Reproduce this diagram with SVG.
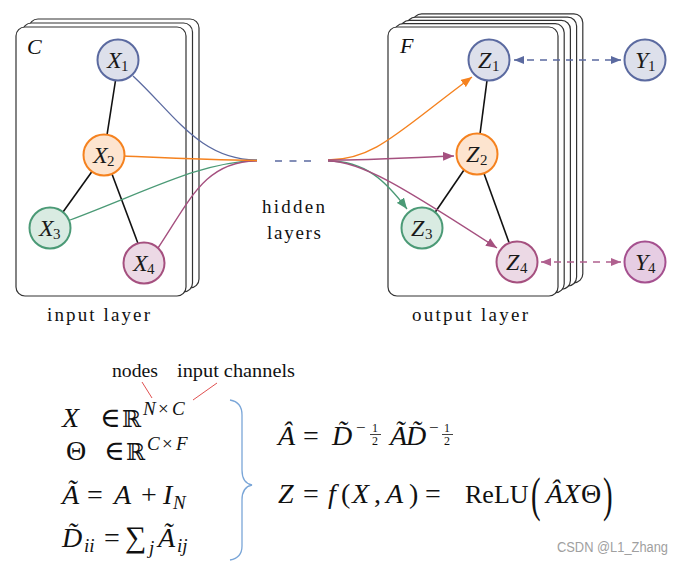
<svg xmlns="http://www.w3.org/2000/svg" width="684" height="564" viewBox="0 0 684 564">
<style>
.card{fill:#fff;stroke:#333;stroke-width:1.2}
.serif{font-family:"Liberation Serif","DejaVu Serif",serif;fill:#111}
.lbl{font-family:"Liberation Serif","DejaVu Serif",serif;font-style:italic;font-size:24px;fill:#1a1a1a}
.sub{font-style:normal;font-size:15px}
.m{font-family:"Liberation Serif","DejaVu Serif",serif;font-size:28px;fill:#111}
.i{font-style:italic}
.sup{font-size:19px}
.frac{font-size:12px}
.rr{font-size:23px}
.edge{stroke:#111;stroke-width:1.6;fill:none}
.cb{stroke:#5b6aa0;fill:none;stroke-width:1.3}
.co{stroke:#f5821f;fill:none;stroke-width:1.4}
.cg{stroke:#4b9a76;fill:none;stroke-width:1.3}
.cm{stroke:#a5507f;fill:none;stroke-width:1.4}
.nb{fill:#dde0eb;stroke:#5b6aa0;stroke-width:2}
.no{fill:#fde4cf;stroke:#f5821f;stroke-width:2}
.ng{fill:#d9ebe2;stroke:#4b9a76;stroke-width:2}
.nm{fill:#ecd9e5;stroke:#a5507f;stroke-width:2}
.ny{fill:#e6cde3;stroke:#a5508f;stroke-width:2}
.cap{font-family:"Liberation Serif","DejaVu Serif",serif;font-size:19px;fill:#111}
</style>
<defs>
<marker id="ao" markerUnits="userSpaceOnUse" markerWidth="11" markerHeight="9" refX="11" refY="4.5" orient="auto-start-reverse"><path d="M0,0 L11,4.5 L0,9 Z" fill="#f5821f"/></marker>
<marker id="am" markerUnits="userSpaceOnUse" markerWidth="11" markerHeight="9" refX="11" refY="4.5" orient="auto-start-reverse"><path d="M0,0 L11,4.5 L0,9 Z" fill="#a5507f"/></marker>
<marker id="ag" markerUnits="userSpaceOnUse" markerWidth="11" markerHeight="9" refX="11" refY="4.5" orient="auto-start-reverse"><path d="M0,0 L11,4.5 L0,9 Z" fill="#4b9a76"/></marker>
<marker id="ab" markerUnits="userSpaceOnUse" markerWidth="10" markerHeight="8" refX="10" refY="4" orient="auto-start-reverse"><path d="M0,0 L10,4 L0,8 Z" fill="#5b6aa0"/></marker>
<marker id="ap" markerUnits="userSpaceOnUse" markerWidth="10" markerHeight="8" refX="10" refY="4" orient="auto-start-reverse"><path d="M0,0 L10,4 L0,8 Z" fill="#b0608f"/></marker>
</defs>
<rect width="684" height="564" fill="#fff"/>

<g id="input-stack">
<rect class="card" x="29" y="19" width="170" height="269" rx="9"/>
<rect class="card" x="22.5" y="23" width="170" height="269" rx="9"/>
<rect class="card" x="16" y="27" width="170" height="269" rx="9"/>
<text class="serif" x="27" y="54" font-size="22" font-style="italic">C</text>
</g>
<g id="output-stack">
<rect class="card" x="412.8" y="13.8" width="170" height="269" rx="9"/>
<rect class="card" x="406.6" y="17.1" width="170" height="269" rx="9"/>
<rect class="card" x="400.4" y="20.4" width="170" height="269" rx="9"/>
<rect class="card" x="394.2" y="23.7" width="170" height="269" rx="9"/>
<rect class="card" x="388" y="27" width="170" height="269" rx="9"/>
<text class="serif" x="400" y="53" font-size="22" font-style="italic">F</text>
</g>

<g id="connectors">
<line class="edge" x1="115.5" y1="80.5" x2="107" y2="135"/>
<line class="edge" x1="92" y1="171.5" x2="63" y2="212"/>
<line class="edge" x1="112" y1="174" x2="138" y2="243.5"/>
<line class="edge" x1="487" y1="80.5" x2="480" y2="134"/>
<line class="edge" x1="464" y1="170" x2="435" y2="212.5"/>
<line class="edge" x1="484" y1="173.5" x2="509" y2="242.5"/>
<path class="cb" d="M133,76 C175,115 200,160 257,160"/>
<path class="cg" d="M70,220 C150,190 200,162 257,160.5"/>
<path class="cm" d="M158,248 C190,200 205,161 257,161"/>
<path class="co" d="M124,156 C170,158 210,160 257,160.5"/>
<line x1="275" y1="161" x2="312" y2="161" stroke="#5b6aa0" stroke-width="1.6" stroke-dasharray="7,7.5"/>
<path class="co" d="M328,160 C375,160 400,130 472,77" marker-end="url(#ao)"/>
<path class="cg" d="M328,161 C365,161 385,180 407,209" marker-end="url(#ag)"/>
<path class="cm" d="M328,161 C360,161 400,185 497,248" marker-end="url(#am)"/>
<path class="cm" d="M328,160 C380,160 420,157 454,156" marker-end="url(#am)"/>
<line x1="514" y1="60" x2="621" y2="60" stroke="#5b6aa0" stroke-width="1.4" stroke-dasharray="7,6" marker-start="url(#ab)" marker-end="url(#ab)"/>
<line x1="541" y1="262" x2="621" y2="262" stroke="#b0608f" stroke-width="1.4" stroke-dasharray="7,6" marker-start="url(#ap)" marker-end="url(#ap)"/>
</g>

<g id="X1"><circle class="nb" cx="118" cy="60" r="20.5"/><text class="lbl" x="107" y="68">X<tspan class="sub" x="121" dy="3">1</tspan></text></g>
<g id="X2"><circle class="no" cx="104" cy="155" r="20.5"/><text class="lbl" x="93" y="163">X<tspan class="sub" x="107" dy="3">2</tspan></text></g>
<g id="X3"><circle class="ng" cx="50" cy="228" r="20.5"/><text class="lbl" x="39" y="236">X<tspan class="sub" x="53" dy="3">3</tspan></text></g>
<g id="X4"><circle class="nm" cx="144" cy="263" r="20.5"/><text class="lbl" x="133" y="271">X<tspan class="sub" x="147" dy="3">4</tspan></text></g>
<g id="Z1"><circle class="nb" cx="489" cy="60" r="20.5"/><text class="lbl" x="478" y="68">Z<tspan class="sub" x="492" dy="3">1</tspan></text></g>
<g id="Z2"><circle class="no" cx="477" cy="154" r="20.5"/><text class="lbl" x="466" y="162">Z<tspan class="sub" x="480" dy="3">2</tspan></text></g>
<g id="Z3"><circle class="ng" cx="422" cy="228" r="20.5"/><text class="lbl" x="411" y="236">Z<tspan class="sub" x="425" dy="3">3</tspan></text></g>
<g id="Z4"><circle class="nm" cx="517" cy="262" r="20.5"/><text class="lbl" x="506" y="270">Z<tspan class="sub" x="520" dy="3">4</tspan></text></g>
<g id="Y1"><circle class="nb" cx="645" cy="60" r="20.5"/><text class="lbl" x="635" y="68">Y<tspan class="sub" x="648" dy="3">1</tspan></text></g>
<g id="Y4"><circle class="ny" cx="645" cy="262" r="20.5"/><text class="lbl" x="635" y="270">Y<tspan class="sub" x="648" dy="3">4</tspan></text></g>

<g id="labels">
<text class="cap" x="47" y="321" textLength="103" lengthAdjust="spacing">input layer</text>
<text class="cap" x="412" y="321" textLength="116" lengthAdjust="spacing">output layer</text>
<text class="cap" x="262" y="213" textLength="63" lengthAdjust="spacing">hidden</text>
<text class="cap" x="267" y="239" textLength="54" lengthAdjust="spacing">layers</text>
</g>

<g id="formulas-left">
<text class="serif" x="112" y="377" font-size="18" textLength="46" lengthAdjust="spacingAndGlyphs">nodes</text>
<text class="serif" x="177" y="377" font-size="18" textLength="118" lengthAdjust="spacingAndGlyphs">input channels</text>
<line x1="142" y1="382" x2="152" y2="398" stroke="#e05050" stroke-width="1"/>
<line x1="217" y1="383" x2="193" y2="400" stroke="#e05050" stroke-width="1"/>
<text class="m" y="427"><tspan class="i" x="62">X</tspan><tspan x="100">∈</tspan><tspan class="rr" x="122">ℝ</tspan></text>
<text class="m sup" y="415"><tspan class="i" x="143">N</tspan><tspan x="158">×</tspan><tspan class="i" x="172">C</tspan></text>
<text class="m" y="460"><tspan x="66">Θ</tspan><tspan x="104">∈</tspan><tspan class="rr" x="126">ℝ</tspan></text>
<text class="m sup" y="450"><tspan class="i" x="147">C</tspan><tspan x="162">×</tspan><tspan class="i" x="176">F</tspan></text>
<text class="m" y="504"><tspan class="i" x="62">Ã</tspan><tspan x="87">=</tspan><tspan class="i" x="114">A</tspan><tspan x="141">+</tspan><tspan class="i" x="163">I</tspan><tspan class="i sup" x="173" dy="5">N</tspan></text>
<text class="m" y="547"><tspan class="i" x="62">D̃</tspan><tspan class="i sup" x="84" dy="5">ii</tspan><tspan x="104" dy="-5">=</tspan><tspan x="125" style="font-size:30px">∑</tspan><tspan class="i sup" x="149" dy="7">j</tspan><tspan class="i" x="158" dy="-7">Ã</tspan><tspan class="i sup" x="177" dy="5">ij</tspan></text>
<path d="M230,400 Q242,402 242,415 L242,470 Q242,483 252,485 Q242,487 242,500 L242,546 Q242,558 230,560" fill="none" stroke="#7aa6d8" stroke-width="1.3"/>
</g>

<g id="formulas-right">
<text class="m" y="445"><tspan class="i" x="278">Â</tspan><tspan x="303">=</tspan><tspan class="i" x="332">D̃</tspan><tspan x="390" class="i">Ã</tspan><tspan class="i" x="406">D̃</tspan></text>
<text class="m" style="font-size:17px" y="433"><tspan x="356">−</tspan><tspan x="429">−</tspan></text>
<text class="m frac"><tspan x="372" y="432">1</tspan><tspan x="372" y="445">2</tspan><tspan x="444" y="432">1</tspan><tspan x="444" y="445">2</tspan></text>
<line x1="370" y1="434.5" x2="381" y2="434.5" stroke="#111" stroke-width="0.8"/>
<line x1="442" y1="434.5" x2="453" y2="434.5" stroke="#111" stroke-width="0.8"/>
<text class="m" y="503"><tspan class="i" x="278">Z</tspan><tspan x="303">=</tspan><tspan class="i" x="328">f</tspan><tspan x="341">(</tspan><tspan class="i" x="352">X</tspan><tspan x="374">,</tspan><tspan class="i" x="386">A</tspan><tspan x="409">)</tspan><tspan x="425">=</tspan><tspan x="465" style="font-size:26px">ReLU</tspan><tspan class="i" x="546">Â</tspan><tspan class="i" x="563">X</tspan><tspan x="581">Θ</tspan></text>
<text class="m" style="font-size:32px" transform="translate(531,511) scale(0.9,1.5)">(</text>
<text class="m" style="font-size:32px" transform="translate(603,511) scale(0.9,1.5)">)</text>
<text x="557" y="552" font-family="Liberation Sans, Arial, sans-serif" font-size="14" fill="#a0a0a0" textLength="111" lengthAdjust="spacingAndGlyphs">CSDN @L1_Zhang</text>
</g>
</svg>
